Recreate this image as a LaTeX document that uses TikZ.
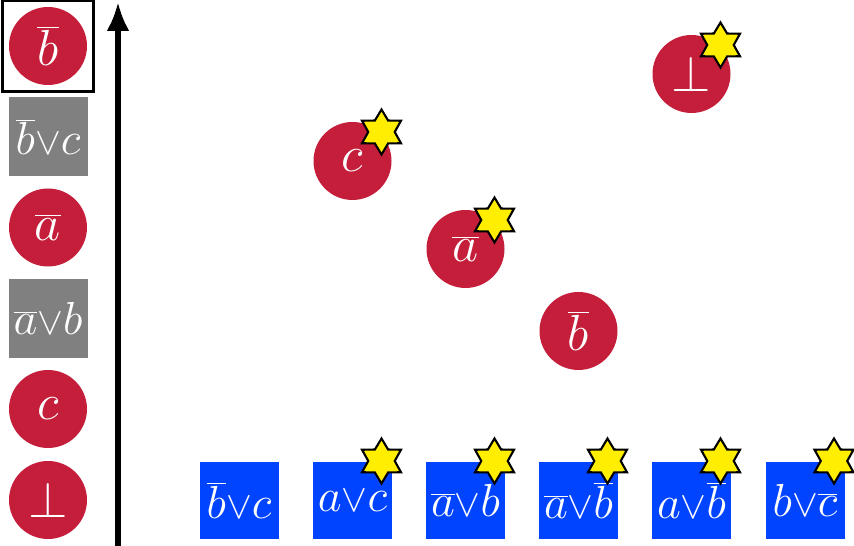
\documentclass[tikz,border=0pt]{standalone}
\usepackage{xcolor}
\usetikzlibrary{arrows.meta,calc,positioning,shapes.geometric}

\definecolor{litred}{HTML}{C41E3A}
\definecolor{clausegray}{HTML}{808080}
\definecolor{inblue}{HTML}{0044FF}
\definecolor{staryellow}{HTML}{FFEE00}
\newcommand{\orr}{{\scriptstyle\vee}}
\newcommand{\lbl}[1]{\scalebox{1.16}{$#1$}}
\newcommand{\cls}[1]{\scalebox{1.06}{$#1$}}

\begin{document}
\begin{tikzpicture}[
    font=\Huge,
    lit/.style={circle, fill=litred, text=white, minimum size=1.56cm, inner sep=0pt},
    clause/.style={rectangle, fill=clausegray, text=white, minimum size=1.58cm, inner sep=0pt},
    given/.style={clause, fill=inblue, minimum height=1.55cm},
    sparkle/.style={star, star points=6, star point ratio=1.7, draw=black, fill=staryellow, line width=1.2pt, minimum size=0.9cm, inner sep=0pt},
    axis/.style={line width=3pt, -{Latex[length=0.58cm, width=0.46cm]}},
    on grid
]
    \useasboundingbox (0,0) rectangle (17.08,10.92);
    % trail, bottom to top
    \node[lit] (t1) at (0.96,0.92) {\lbl{\bot}};
    \node[lit, above=1.82cm of t1] (t2) {\lbl{c}};
    \node[clause, above=1.81cm of t2] (t3) {\cls{\overline{a}\orr b}};
    \node[lit, above=1.82cm of t3] (t4) {\lbl{\overline{a}}};
    \node[clause, above=1.81cm of t4] (t5) {\cls{\overline{b}\orr c}};
    \node[lit, above=1.82cm of t5] (t6) {\lbl{\overline{b}}};
    \node[draw=black, line width=2pt, minimum size=1.82cm] (sel) at (t6) {};
    % axis
    \coordinate (axbot) at (2.36,0);
    \coordinate (axtop) at (2.36,10.88);
    \draw[axis] (axbot) -- (axtop);
    % input clauses
    \node[given] (in1) at (4.78,0.91) {\cls{\overline{b}\orr c}};
    \node[given, right=2.27cm of in1] (in2) {\cls{a\orr c}};
    \node[given, right=2.26cm of in2] (in3) {\cls{\overline{a}\orr b}};
    \node[given, right=2.26cm of in3] (in4) {\cls{\overline{a}\orr\overline{b}}};
    \node[given, right=2.26cm of in4] (in5) {\cls{a\orr\overline{b}}};
    \node[given, right=2.27cm of in5] (in6) {\cls{b\orr\overline{c}}};
    % derived literals
    \node[lit, above=6.79cm of in2] (d1) {\lbl{c}};
    \node[lit, above=5.03cm of in3] (d2) {\lbl{\overline{a}}};
    \node[lit, above=3.39cm of in4] (d3) {\lbl{\overline{b}}};
    \node[lit, above=8.53cm of in5] (d4) {\lbl{\bot}};
    % stars
    \foreach \n in {in2,in3,in4,in5,in6}
        \node[sparkle] (st-\n) at ([shift={(0.58,0.79)}]\n) {};
    \foreach \n in {d1,d2,d4}
        \node[sparkle] (st-\n) at ([shift={(0.58,0.58)}]\n) {};
\end{tikzpicture}
\end{document}
